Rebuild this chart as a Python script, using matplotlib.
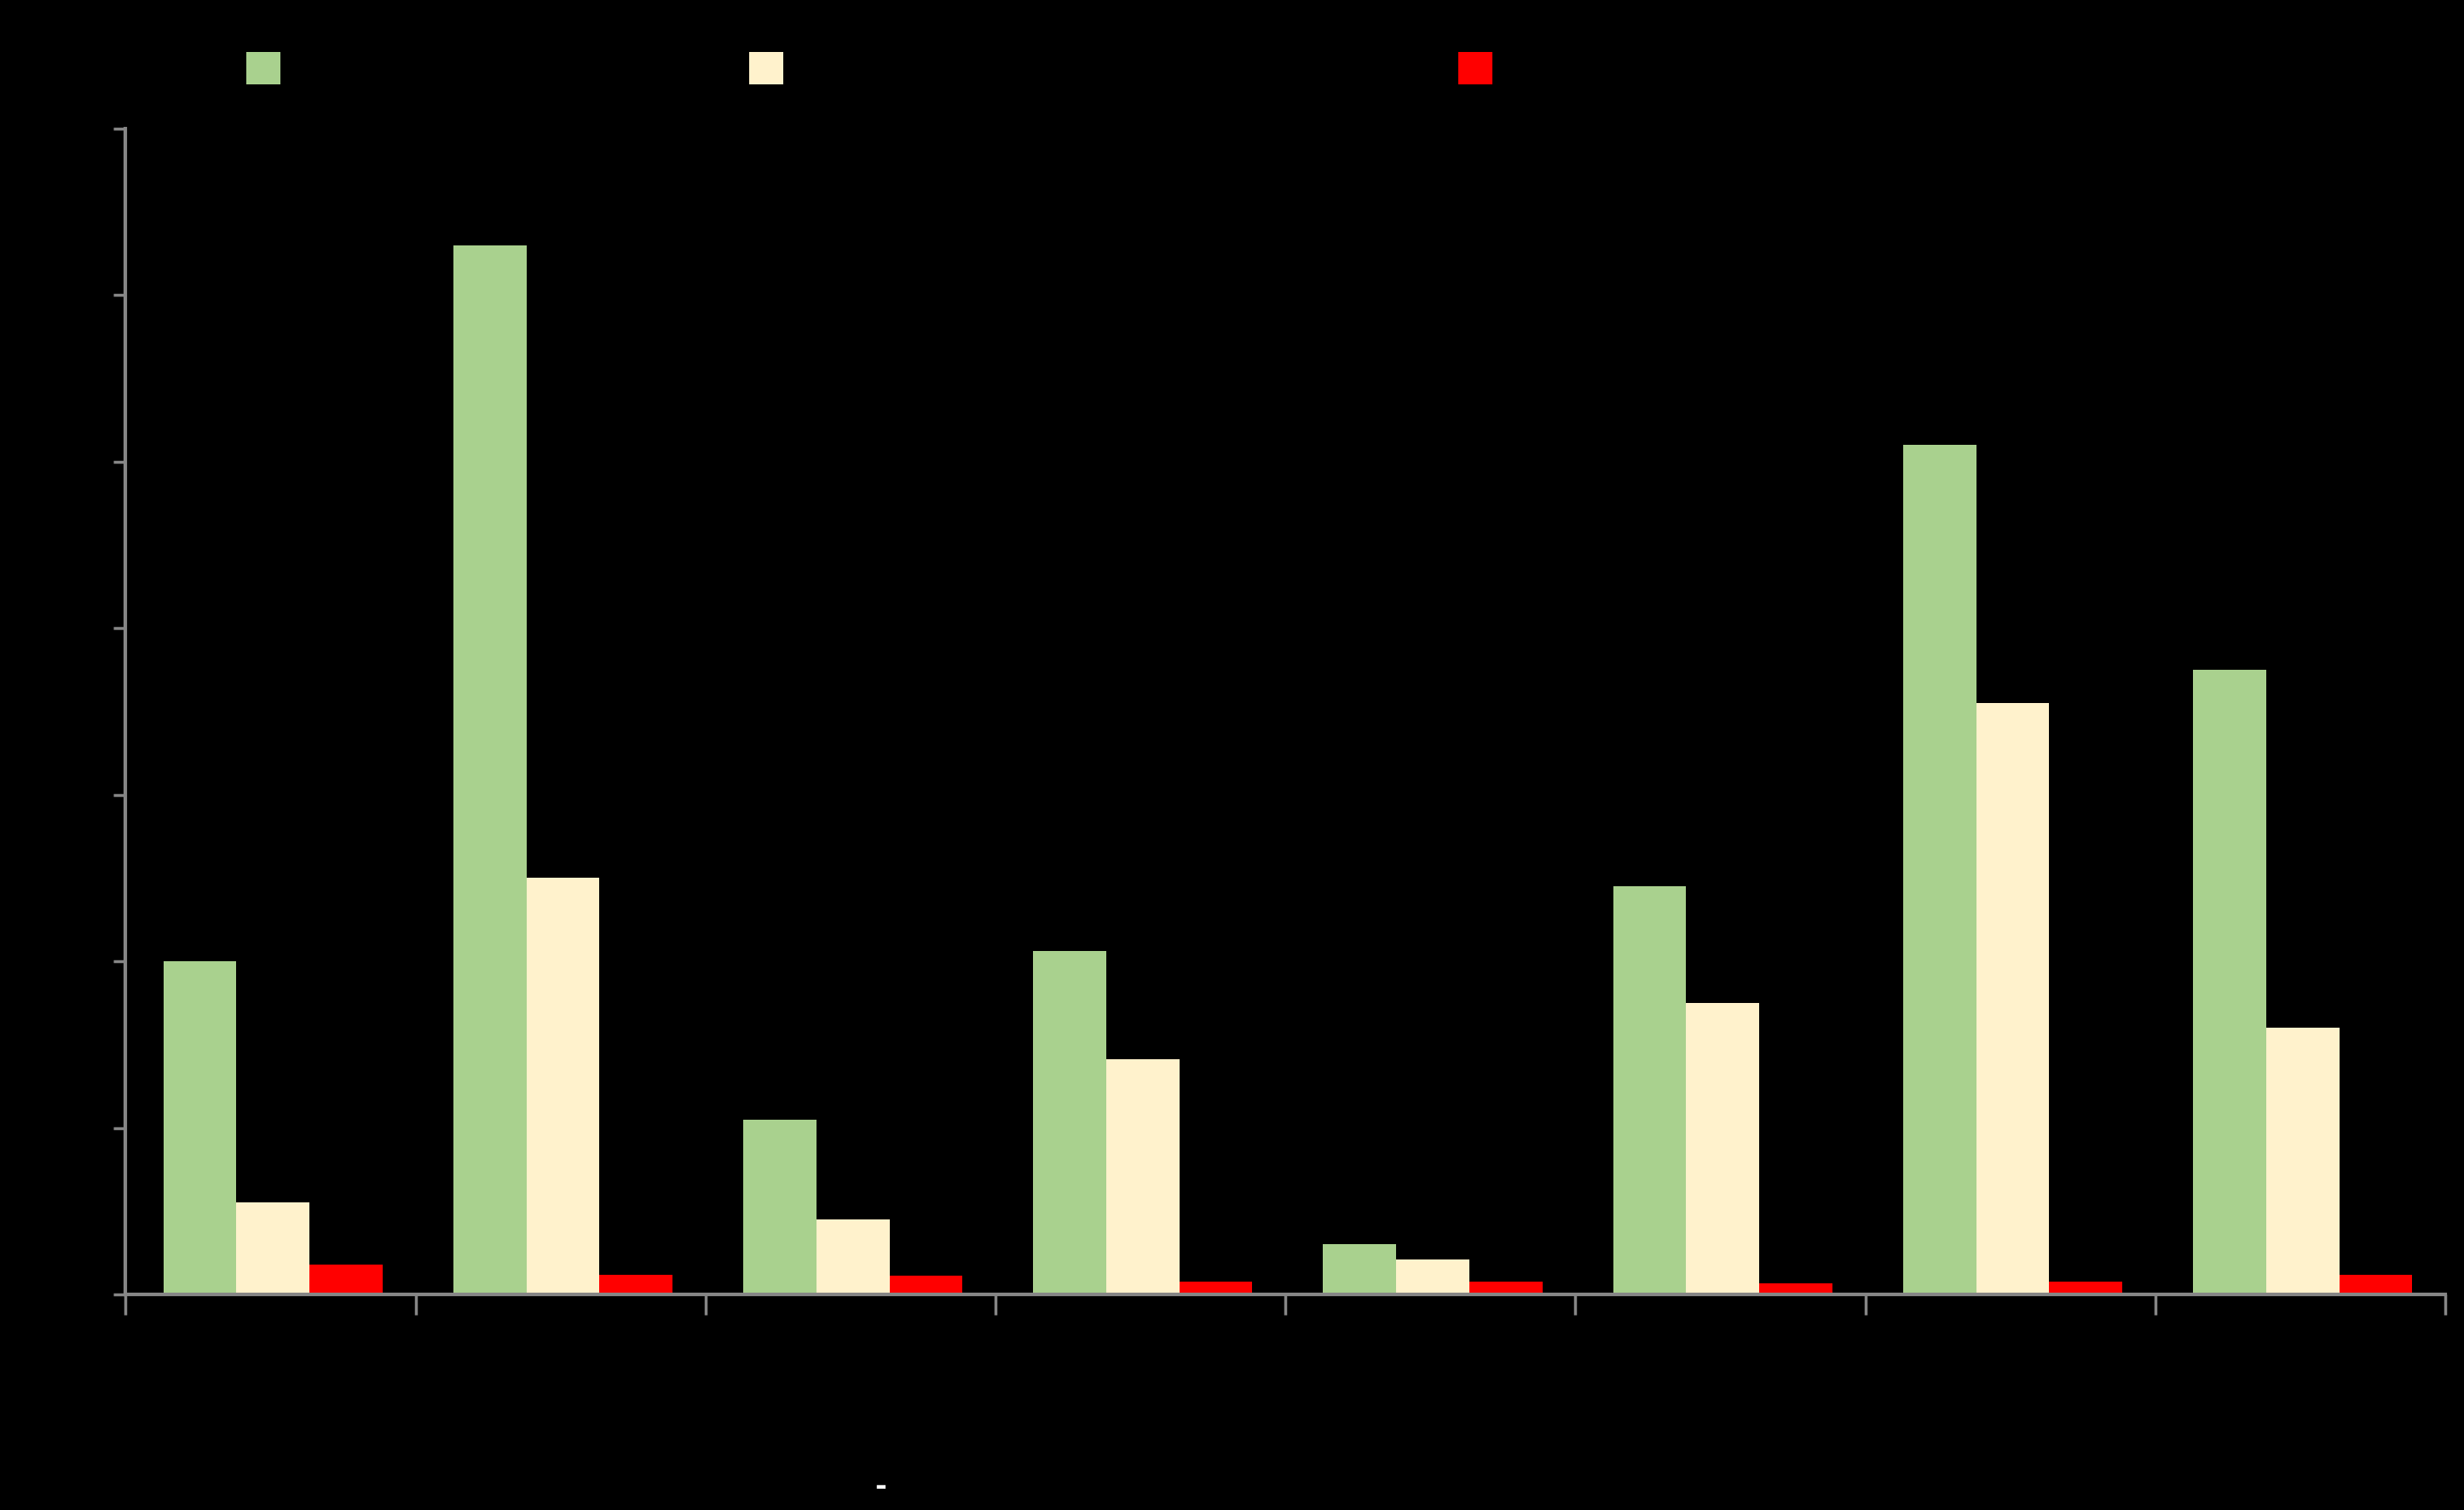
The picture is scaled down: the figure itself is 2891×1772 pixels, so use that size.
import matplotlib
matplotlib.use("Agg")
import matplotlib.pyplot as plt
import matplotlib.patches as mpatches
import numpy as np

categories = ["A", "B", "C", "D", "E", "F", "G", "H"]
series_names = ["Series 1", "Series 2", "Series 3"]
green_vals = [2.00, 6.30, 1.05, 2.06, 0.30, 2.45, 5.10, 3.75]
cream_vals = [0.55, 2.50, 0.45, 1.41, 0.21, 1.75, 3.55, 1.60]
red_vals = [0.18, 0.12, 0.11, 0.075, 0.075, 0.066, 0.075, 0.12]
y_ticks = [0, 1, 2, 3, 4, 5, 6, 7]

colors = ["#A9D18E", "#FFF2CC", "#FF0000"]
axis_gray = "#868686"

fig = plt.figure(figsize=(28.91, 17.72), dpi=100, facecolor="black")
ax = fig.add_axes([0.051, 0.1428, 0.9414, 0.772], facecolor="black")

x = np.arange(len(categories))
w = 0.252
for i, (vals, c) in enumerate(zip([green_vals, cream_vals, red_vals], colors)):
    ax.bar(x + (i - 1) * w + 0.008, vals, width=w, color=c, edgecolor="none", zorder=2)

ax.set_xlim(-0.5, len(categories) - 0.5)
ax.set_ylim(0, 7)
ax.set_yticks(y_ticks)
ax.set_yticklabels([str(v) for v in y_ticks], color="black", fontsize=22)
ax.set_xticks(x)
ax.set_xticklabels(categories, color="black", fontsize=22)
ax.tick_params(axis="x", which="major", length=0, pad=20)
ax.set_xticks(np.arange(len(categories) + 1) - 0.5, minor=True)
ax.tick_params(axis="x", which="minor", length=17, width=2.5, color=axis_gray, direction="out")
ax.tick_params(axis="y", length=10, width=2.5, color=axis_gray, direction="out")

for s in ["top", "right"]:
    ax.spines[s].set_visible(False)
for s in ["left", "bottom"]:
    ax.spines[s].set_color(axis_gray)
    ax.spines[s].set_linewidth(3)

# legend entries (black text, as in reference)
leg_x = [0.100, 0.304, 0.592]
for name, c, lx in zip(series_names, colors, leg_x):
    h = mpatches.Patch(facecolor=c, edgecolor="none")
    fig.legend([h], [name], loc="center left", bbox_to_anchor=(lx, 0.955),
               frameon=False, fontsize=22, handlelength=1.3, handleheight=1.55,
               labelcolor="black", borderaxespad=0, borderpad=0)

fig.text(0.3575, 0.0155, "-", color="white", fontsize=24, fontweight="bold",
         ha="center", va="center")

fig.savefig("out.png", dpi=100, facecolor="black")
